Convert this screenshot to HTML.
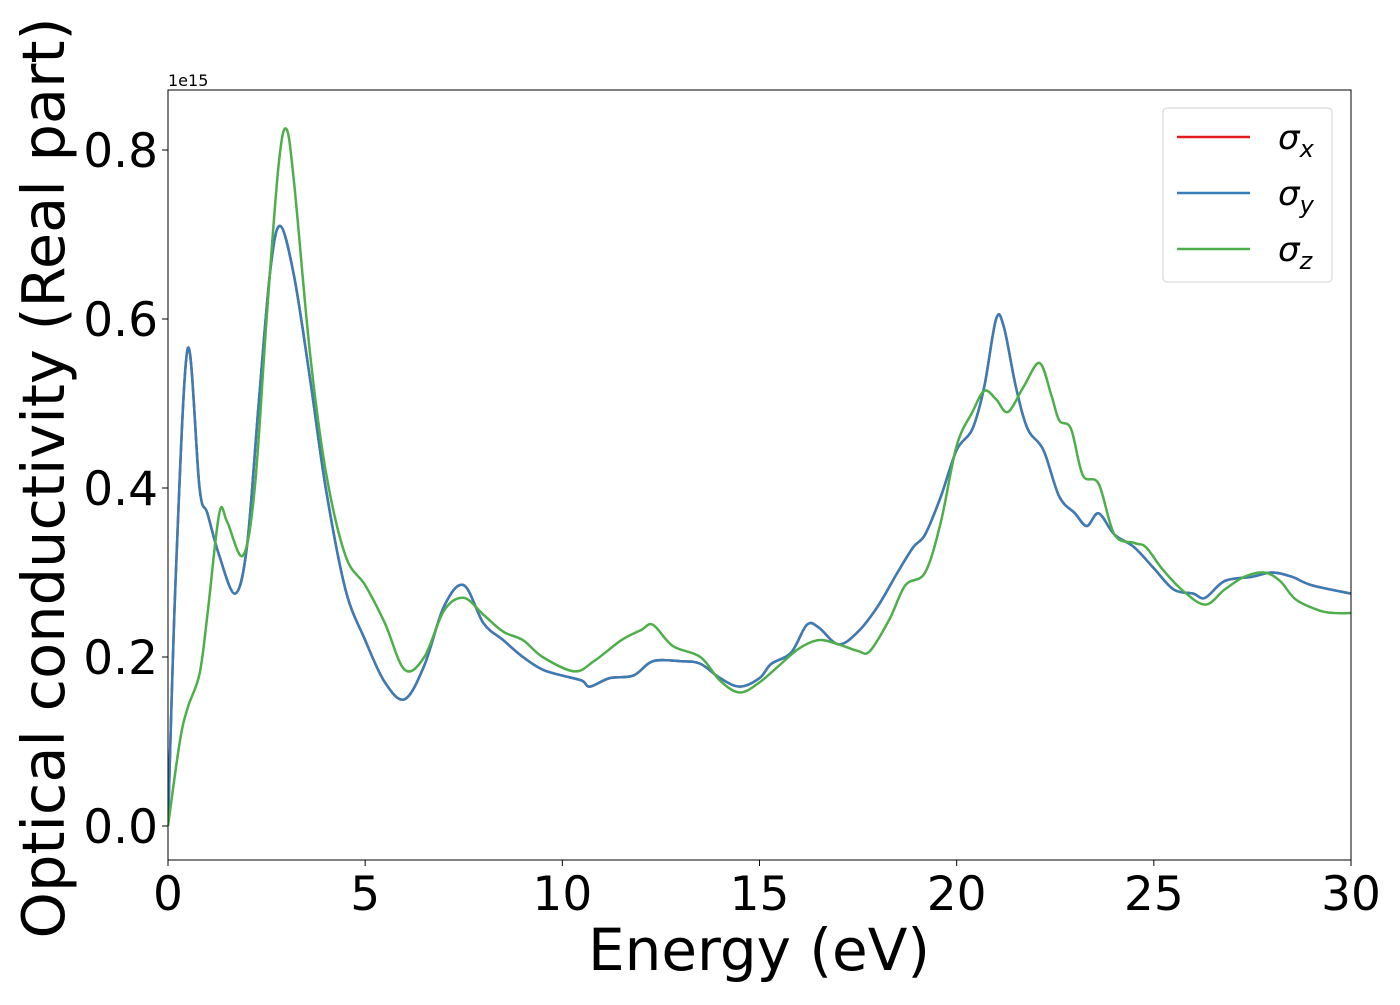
<!DOCTYPE html>
<html><head><meta charset="utf-8"><style>
body{margin:0;background:#fff;}
svg text{font-family:"DejaVu Sans","Liberation Sans",sans-serif;}
</style></head><body>
<svg id="chart" width="1400" height="1000" xmlns="http://www.w3.org/2000/svg">
<rect x="0" y="0" width="1400" height="1000" fill="#fff"/>
<g id="plot"></g>
</svg>
<script>
const xTicks=[0,5,10,15,20,25,30];
const yTicks=[0.0,0.2,0.4,0.6,0.8];
const yTickLabels=["0.0","0.2","0.4","0.6","0.8"];
const energyXY=[0,0.2,0.5,0.8,1.0,1.3,1.7,2.0,2.3,2.6,2.85,3.2,3.6,4.0,4.5,5.0,5.5,6.0,6.5,7.0,7.5,8.0,8.5,9.0,9.5,10,10.5,10.7,11.2,11.8,12.3,13,13.5,14,14.5,15,15.3,15.8,16.2,16.5,17,17.5,18,18.5,18.9,19.2,19.6,20,20.4,20.7,21.0,21.2,21.5,21.8,22.2,22.6,23,23.3,23.6,24,24.5,25,25.5,26,26.3,26.8,27.5,28,28.5,29,30];
const sigmaXY=[0,0.3,0.565,0.4,0.37,0.32,0.275,0.33,0.5,0.66,0.71,0.65,0.53,0.4,0.28,0.22,0.17,0.15,0.19,0.26,0.285,0.24,0.22,0.2,0.185,0.178,0.172,0.165,0.175,0.178,0.195,0.195,0.192,0.175,0.165,0.175,0.192,0.205,0.238,0.235,0.215,0.23,0.26,0.3,0.33,0.345,0.39,0.445,0.47,0.52,0.6,0.59,0.52,0.47,0.445,0.39,0.37,0.355,0.37,0.345,0.33,0.305,0.28,0.275,0.27,0.29,0.295,0.3,0.295,0.285,0.275];
const energyZ=[0,0.3,0.5,0.8,1.0,1.3,1.5,1.9,2.2,2.5,2.8,3.0,3.2,3.6,4.0,4.5,5.0,5.5,6.0,6.5,7.0,7.5,8.0,8.5,9.0,9.5,10.3,10.8,11.5,12.0,12.3,12.8,13.5,14.0,14.5,15.0,15.5,16.0,16.5,17.0,17.5,17.8,18.3,18.7,19.2,19.6,20,20.4,20.7,21.0,21.3,21.7,22.1,22.4,22.6,22.9,23.2,23.6,24.0,24.5,24.8,25.2,25.7,26.3,26.8,27.3,27.8,28.2,28.6,29.2,29.6,30];
const sigmaZ=[0,0.1,0.14,0.18,0.25,0.37,0.36,0.32,0.4,0.6,0.78,0.825,0.76,0.56,0.42,0.32,0.285,0.24,0.185,0.2,0.255,0.27,0.25,0.23,0.22,0.2,0.183,0.195,0.22,0.232,0.238,0.213,0.2,0.172,0.158,0.17,0.19,0.21,0.22,0.215,0.207,0.207,0.245,0.285,0.3,0.36,0.45,0.49,0.515,0.505,0.49,0.52,0.548,0.51,0.48,0.47,0.415,0.405,0.345,0.335,0.33,0.305,0.28,0.262,0.28,0.295,0.3,0.29,0.268,0.255,0.252,0.252];

const L=168,R=1351,T=90,B=860;
const xs=v=>L+(v-0)/(30-0)*(R-L);
const ys=v=>826-v*845;
const NS="http://www.w3.org/2000/svg";
const g=document.getElementById('plot');
function mk(t,a,txt){const e=document.createElementNS(NS,t);for(const k in a)e.setAttribute(k,a[k]);if(txt!==undefined)e.textContent=txt;g.appendChild(e);return e;}
function pathFor(xa,ya){
  const p=xa.map((x,i)=>[xs(x),ys(ya[i])]);
  let d=`M${p[0][0]},${p[0][1]}`;
  for(let i=0;i<p.length-1;i++){
    const p0=p[Math.max(i-1,0)],p1=p[i],p2=p[i+1],p3=p[Math.min(i+2,p.length-1)];
    const c1=[p1[0]+(p2[0]-p0[0])/6,p1[1]+(p2[1]-p0[1])/6];
    const c2=[p2[0]-(p3[0]-p1[0])/6,p2[1]-(p3[1]-p1[1])/6];
    d+=` C${c1[0]},${c1[1]} ${c2[0]},${c2[1]} ${p2[0]},${p2[1]}`;
  }
  return d;
}
const clip=mk('clipPath',{id:'clip'});
const cr=document.createElementNS(NS,'rect');cr.setAttribute('x',L);cr.setAttribute('y',T);cr.setAttribute('width',R-L);cr.setAttribute('height',B-T);clip.appendChild(cr);
let e;
e=mk('path',{d:pathFor(energyXY,sigmaXY),fill:'none',stroke:'#e41a1c','stroke-width':2.5,'clip-path':'url(#clip)'});

e=mk('path',{d:pathFor(energyXY,sigmaXY),fill:'none',stroke:'#377eb8','stroke-width':2.5,'clip-path':'url(#clip)'});

e=mk('path',{d:pathFor(energyZ,sigmaZ),fill:'none',stroke:'#4daf4a','stroke-width':2.5,'clip-path':'url(#clip)'});

e=mk('rect',{x:L,y:T,width:R-L,height:B-T,fill:'none',stroke:'#000','stroke-width':1});

xTicks.forEach(v=>{
  e=mk('line',{x1:xs(v),x2:xs(v),y1:B,y2:B+6,stroke:'#000','stroke-width':1});
  
  e=mk('text',{x:xs(v),y:B+50,'font-size':47,'text-anchor':'middle'},String(v));
  
});
yTicks.forEach((v,i)=>{
  e=mk('line',{x1:L-6,x2:L,y1:ys(v),y2:ys(v),stroke:'#000','stroke-width':1});
  
  e=mk('text',{x:L-10,y:ys(v)+17,'font-size':47,'text-anchor':'end'},yTickLabels[i]);
  
});
e=mk('text',{x:168,y:86,'font-size':16},'1e15');

e=mk('text',{x:759,y:970,'font-size':58,'text-anchor':'middle'},'Energy (eV)');

e=mk('text',{x:0,y:0,'font-size':59,'text-anchor':'middle',transform:'translate(64,478) rotate(-90)'},'Optical conductivity (Real part)');

e=mk('rect',{x:1163,y:108,width:169,height:174,rx:4,fill:'#fff',stroke:'#ccc','stroke-width':1,opacity:0.9});

const legC=['#e41a1c','#377eb8','#4daf4a'],legS=['x','y','z'];
legC.forEach((c,i)=>{
  const y=137+i*56;
  e=mk('line',{x1:1177,x2:1250,y1:y,y2:y,stroke:c,'stroke-width':2.5});
  
  const t=mk('text',{x:1278,y:y+12,'font-size':34,'font-style':'italic'});
  t.innerHTML='σ<tspan font-size="24" dy="8">'+legS[i]+'</tspan>';
  
});
</script>
</body></html>
